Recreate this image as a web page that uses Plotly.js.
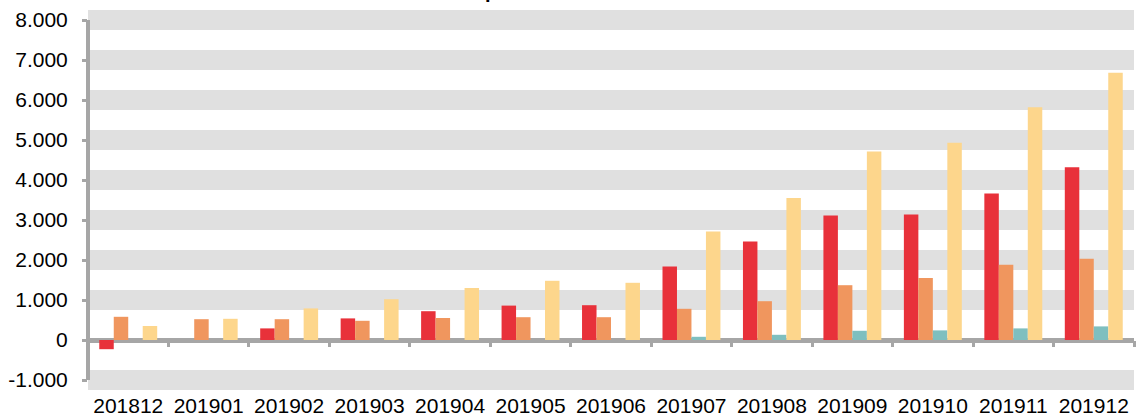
<!DOCTYPE html>
<html>
<head>
<meta charset="utf-8">
<script src="https://cdn.plot.ly/plotly-3.0.1.min.js"></script>
<style>
  html, body { margin: 0; padding: 0; background: #ffffff; }
  #chart { width: 1137px; height: 416px; }
</style>
</head>
<body>
<div id="chart"></div>
<script>
// ---- data ----
const categories = ['201812','201901','201902','201903','201904','201905','201906','201907','201908','201909','201910','201911','201912'];
const seriesRed    = [-230, 0, 290, 540, 720, 860, 870, 1840, 2460, 3110, 3140, 3660, 4320];
const seriesOrange = [580, 520, 520, 480, 550, 570, 570, 780, 970, 1370, 1550, 1880, 2030];
const seriesTeal   = [0, 0, 0, 0, 0, 0, 0, 80, 130, 230, 240, 290, 340];
const seriesYellow = [350, 530, 790, 1020, 1300, 1480, 1430, 2710, 3550, 4710, 4930, 5820, 6680];
const yTickVals   = [8000, 7000, 6000, 5000, 4000, 3000, 2000, 1000, 0, -1000];
const yTickLabels = ['8.000', '7.000', '6.000', '5.000', '4.000', '3.000', '2.000', '1.000', '0', '-1.000'];
const titleText = 'p';

// ---- styling ----
const colors = ['#E8313A', '#F0965E', '#7FBFBF', '#FDD68C'];
const axisGray = '#A6A6A6';
const yMin = -1250, yMax = 8250;
const zeroPos = (0 - yMin) / (yMax - yMin);

const seriesList = [seriesRed, seriesOrange, seriesTeal, seriesYellow];
const traces = seriesList.map((vals, i) => ({
  type: 'bar',
  x: categories,
  y: vals,
  marker: { color: colors[i], line: { width: 0 } },
  hoverinfo: 'x+y'
}));

const layout = {
  width: 1137,
  height: 416,
  margin: { l: 88, r: 3, t: 10, b: 26, pad: 0 },
  paper_bgcolor: '#ffffff',
  plot_bgcolor: '#ffffff',
  showlegend: false,
  barmode: 'group',
  bargap: 0.28,
  bargroupgap: 0,
  font: { family: '"Liberation Sans", Arial, sans-serif', size: 21, color: '#000000' },
  xaxis: {
    type: 'category',
    range: [-0.5, categories.length - 0.5],
    anchor: 'free',
    position: zeroPos,
    showline: false,
    showgrid: false,
    zeroline: false,
    ticks: 'outside',
    tickson: 'boundaries',
    ticklen: 6,
    tickwidth: 3,
    tickcolor: axisGray,
    tickangle: 0,
    ticklabelstandoff: 51,
    tickfont: { size: 21, color: '#000000' },
    fixedrange: true
  },
  yaxis: {
    range: [yMin, yMax],
    tickvals: yTickVals,
    ticktext: yTickLabels,
    showline: false,
    showgrid: true,
    gridcolor: '#E0E0E0',
    gridwidth: 20,
    zeroline: true,
    zerolinecolor: axisGray,
    zerolinewidth: 5,
    ticks: 'outside',
    ticklen: 5,
    tickwidth: 3,
    tickcolor: axisGray,
    ticklabelstandoff: 10,
    tickfont: { size: 21, color: '#000000' },
    fixedrange: true
  },
  shapes: [{
    type: 'line',
    xref: 'paper', yref: 'y',
    x0: 0, x1: 0,
    y0: yTickVals[yTickVals.length - 1], y1: yTickVals[0],
    line: { color: axisGray, width: 4 },
    layer: 'above'
  }],
  annotations: [{
    text: '<b>' + titleText + '</b>',
    xref: 'paper', yref: 'paper',
    x: (491 - 88) / 1046, y: 1,
    xanchor: 'center', yanchor: 'bottom',
    yshift: 6,
    showarrow: false,
    font: { size: 20, color: '#000000' }
  }]
};

Plotly.newPlot('chart', traces, layout, { displayModeBar: false, staticPlot: true });
</script>
</body>
</html>
